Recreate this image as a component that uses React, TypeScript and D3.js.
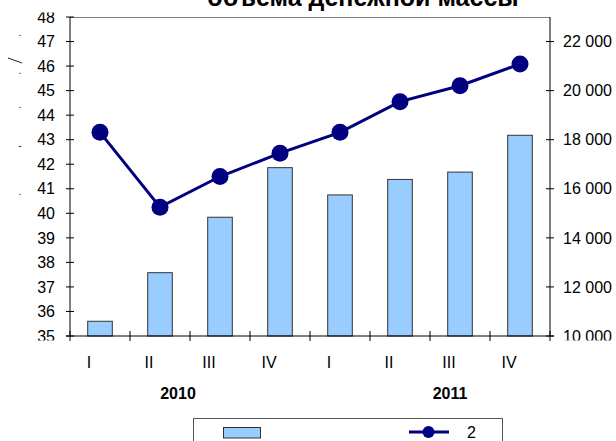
import React from "react";
import * as d3 from "d3";

const categories = ["I", "II", "III", "IV", "I", "II", "III", "IV"];
const years = ["2010", "2011"];
const barValues = [10600, 12580, 14840, 16860, 15750, 16380, 16680, 18180];
const lineValues = [43.3, 40.25, 41.5, 42.45, 43.3, 44.55, 45.2, 46.08];
const leftTicks = d3.range(35, 49, 1);
const rightTicks = d3.range(10000, 22001, 2000);
const titleText = "объема денежной массы";
const legendLabels = ["", "2"];
const sideMarks = [".", "/", ".", ".", "-", "."];

const W = 616;
const H = 441;
const left = 70;
const right = 550;
const top = 17;
const bottom = 336;
const FONT = "'Liberation Sans', Arial, sans-serif";

export default function App() {
  const idx = categories.map((_, i) => String(i));
  const x = d3.scaleBand<string>().domain(idx).range([left, right]).paddingInner(0.59).paddingOuter(0.295);
  const step = x.step();
  const yL = d3.scaleLinear().domain([35, 48]).range([bottom, top]);
  const yR = d3.scaleLinear().domain([10000, 23000]).range([bottom, top]);
  const cx = (i: number) => (x(String(i)) as number) + x.bandwidth() / 2;
  const line = d3
    .line<number>()
    .x((_, i) => cx(i))
    .y((d) => yL(d));
  const fmt = (v: number) => d3.format(",")(v).replace(/,/g, " ");
  const boundaries = d3.range(0, categories.length + 1).map((i) => left + i * step);
  const sideMarkY = [33, 60, 71, 105, 146, 192];

  return (
    <svg width={W} height={H} style={{ position: "absolute", left: 0, top: 0, background: "#fff" }} fontFamily={FONT}>
      <defs>
        <clipPath id="labelClip">
          <rect x={0} y={12.5} width={W} height={340.5 - 12.5} />
        </clipPath>
      </defs>
      <rect x={0} y={0} width={W} height={H} fill="#fff" />
      {/* title (cut off at the top, as in the reference) */}
      <text x={363} y={6} textAnchor="middle" fontSize={25} fontWeight="bold" fill="#000">
        {titleText}
      </text>
      {/* side marks */}
      {sideMarks.map((m, i) =>
        m === "/" ? (
          <line key={i} x1={8} y1={58} x2={22} y2={63} stroke="#222" strokeWidth={1} />
        ) : (
          <text key={i} x={20} y={sideMarkY[i] + 3} fontSize={10} textAnchor="middle" fill="#222">
            {m}
          </text>
        )
      )}
      {/* plot top border */}
      <line x1={left} x2={right} y1={top + 0.5} y2={top + 0.5} stroke="#808080" strokeWidth={1} />
      {/* bars */}
      {barValues.map((v, i) => (
        <rect
          key={i}
          x={x(String(i))}
          y={yR(v)}
          width={x.bandwidth()}
          height={bottom - yR(v)}
          fill="#99CCFF"
          stroke="#333"
          strokeWidth={1}
        />
      ))}
      {/* axes */}
      <line x1={left} x2={left} y1={top} y2={bottom} stroke="#000" strokeWidth={1} />
      <line x1={right} x2={right} y1={top} y2={bottom} stroke="#000" strokeWidth={1} />
      <line x1={left - 4} x2={right + 4} y1={bottom} y2={bottom} stroke="#000" strokeWidth={1} />
      {leftTicks.map((t) => (
        <line key={t} x1={left - 4} x2={left + 4} y1={yL(t)} y2={yL(t)} stroke="#000" />
      ))}
      {rightTicks.map((t) => (
        <line key={t} x1={right - 4} x2={right + 4} y1={yR(t)} y2={yR(t)} stroke="#000" />
      ))}
      {boundaries.map((b, i) => (
        <line key={i} x1={b} x2={b} y1={bottom - 5} y2={bottom + 5} stroke="#000" />
      ))}
      <g clipPath="url(#labelClip)">
        {leftTicks.map((t) => (
          <text key={t} x={55} y={yL(t) + 5.7} textAnchor="end" fontSize={16} fill="#000">
            {t}
          </text>
        ))}
        {rightTicks.map((t) => (
          <text key={t} x={563} y={yR(t) + 5.7} textAnchor="start" fontSize={16} fill="#000">
            {fmt(t)}
          </text>
        ))}
      </g>
      {/* category labels */}
      {categories.map((c, i) => (
        <text key={i} x={cx(i) - 11} y={367.5} textAnchor="middle" fontSize={16} fill="#000">
          {c}
        </text>
      ))}
      {years.map((yv, i) => (
        <text
          key={yv}
          x={i === 0 ? cx(1) + 18 : cx(6) - 10}
          y={398.5}
          textAnchor="middle"
          fontSize={16}
          fontWeight="bold"
          fill="#000"
        >
          {yv}
        </text>
      ))}
      {/* line series */}
      <path d={line(lineValues) || ""} fill="none" stroke="#000080" strokeWidth={3} />
      {lineValues.map((v, i) => (
        <circle key={i} cx={cx(i)} cy={yL(v)} r={8.5} fill="#000080" />
      ))}
      {/* legend */}
      <rect x={193.5} y={418.5} width={309} height={40} fill="#fff" stroke="#555" strokeWidth={1} />
      <rect x={223.5} y={427.5} width={37} height={10.5} fill="#99CCFF" stroke="#333" strokeWidth={1} />
      <text x={265} y={437} fontSize={16}>{legendLabels[0]}</text>
      <line x1={409} x2={449} y1={432} y2={432} stroke="#000080" strokeWidth={3} />
      <circle cx={428.5} cy={432} r={6} fill="#000080" />
      <text x={467} y={437.5} fontSize={16} fill="#000">
        {legendLabels[1]}
      </text>
    </svg>
  );
}
